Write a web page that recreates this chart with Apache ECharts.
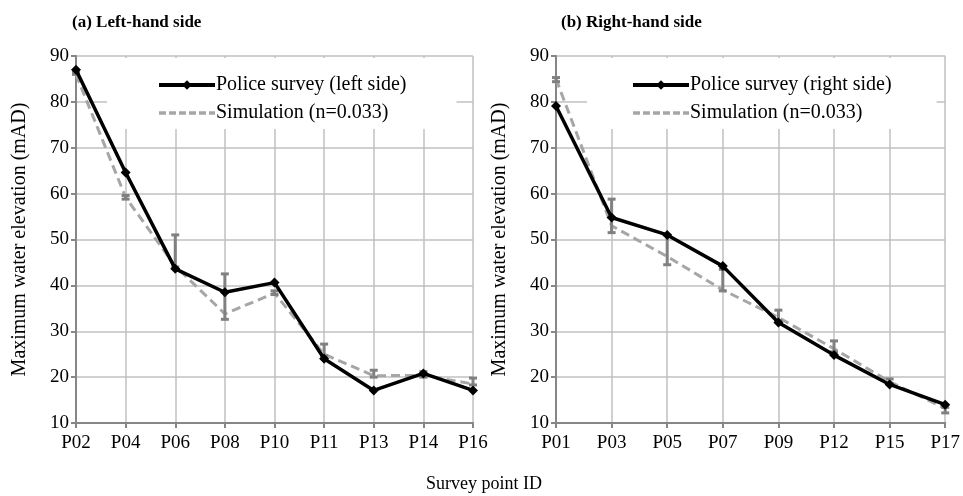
<!DOCTYPE html>
<html>
<head>
<meta charset="utf-8">
<script src="https://cdn.jsdelivr.net/npm/echarts@6/dist/echarts.min.js"></script>
<style>
  html, body { margin: 0; padding: 0; background: #fff; }
  #chart { width: 963px; height: 496px; }
</style>
</head>
<body>
<div id="chart"></div>
<script>
// left-hand side
const leftCats = ["P02", "P04", "P06", "P08", "P10", "P11", "P13", "P14", "P16"];
const leftPolice = [87, 64.6, 43.6, 38.5, 40.6, 24, 17.1, 20.8, 17.1];
const leftSim = [86, 59.2, 44.2, 33.8, 38.3, 25, 20.3, 20.4, 18.5];
const leftErrLow = [86, 58.8, 44, 32.6, 38, 24.6, 20, 20, 18.3];
const leftErrHigh = [86.4, 59.6, 51, 42.5, 38.8, 27.2, 21.5, 21.2, 19.8];

// right-hand side
const rightCats = ["P01", "P03", "P05", "P07", "P09", "P12", "P15", "P17"];
const rightPolice = [79.1, 54.8, 51, 44.2, 31.9, 24.8, 18.4, 14];
const rightSim = [85, 53, 46.3, 39, 33, 26.2, 19, 13.2];
const rightErrLow = [84.4, 51.5, 44.5, 38.8, 32.3, 25.5, 18.5, 12.2];
const rightErrHigh = [85.3, 58.8, 51, 43.5, 34.6, 27.9, 19.6, 13.4];

const font = "Liberation Serif";
const axisGray = "#868686";
const gridGray = "#c0c0c0";

function errData(lo, hi) {
  return lo.map((v, i) => [i, v, hi[i]]);
}

function renderErr(params, api) {
  const i = api.value(0);
  const a = api.coord([i, api.value(1)]);
  const b = api.coord([i, api.value(2)]);
  const style = { stroke: "#808080", lineWidth: 3 };
  const w = 4;
  return {
    type: "group",
    children: [
      { type: "line", shape: { x1: a[0], y1: a[1], x2: b[0], y2: b[1] }, style },
      { type: "line", shape: { x1: a[0] - w, y1: a[1], x2: a[0] + w, y2: a[1] }, style },
      { type: "line", shape: { x1: b[0] - w, y1: b[1], x2: b[0] + w, y2: b[1] }, style },
    ],
  };
}

function xAxis(idx, cats) {
  return {
    gridIndex: idx,
    type: "category",
    data: cats,
    boundaryGap: false,
    axisLine: { lineStyle: { color: axisGray, width: 2 } },
    axisTick: { show: true, length: 5, lineStyle: { color: axisGray, width: 2 } },
    axisLabel: { color: "#000", fontFamily: font, fontSize: 19, margin: 11 },
    splitLine: { show: true, lineStyle: { color: gridGray, width: 1.5 } },
  };
}

function yAxis(idx) {
  return {
    gridIndex: idx,
    type: "value",
    min: 10,
    max: 90,
    interval: 10,
    name: "Maximum water elevation (mAD)",
    nameLocation: "middle",
    nameGap: 46,
    nameTextStyle: { color: "#000", fontFamily: font, fontSize: 20 },
    axisLine: { show: true, lineStyle: { color: axisGray, width: 2 } },
    axisTick: { show: true, length: 5, lineStyle: { color: axisGray, width: 2 } },
    axisLabel: { color: "#000", fontFamily: font, fontSize: 19, margin: 7 },
    splitLine: { show: true, lineStyle: { color: gridGray, width: 1.5 } },
  };
}

function police(name, idx, data) {
  return {
    name: name,
    type: "line",
    xAxisIndex: idx,
    yAxisIndex: idx,
    data: data,
    symbol: "diamond",
    symbolSize: 10,
    z: 5,
    itemStyle: { color: "#000" },
    lineStyle: { color: "#000", width: 3.5 },
  };
}

function sim(idx, data) {
  return {
    name: "Simulation (n=0.033)",
    type: "line",
    xAxisIndex: idx,
    yAxisIndex: idx,
    data: data,
    symbol: "none",
    z: 3,
    itemStyle: { color: "#a6a6a6" },
    lineStyle: { color: "#a6a6a6", width: 3, type: [9, 5] },
  };
}

function errs(idx, lo, hi) {
  return {
    type: "custom",
    xAxisIndex: idx,
    yAxisIndex: idx,
    data: errData(lo, hi),
    renderItem: renderErr,
    z: 4,
    silent: true,
  };
}

function legend(left, policeName, pad) {
  return {
    orient: "vertical",
    left: left,
    top: 58,
    padding: pad,
    itemGap: 8,
    itemWidth: 56,
    itemHeight: 12,
    backgroundColor: "#fff",
    data: [
      { name: policeName, lineStyle: { width: 4 } },
      { name: "Simulation (n=0.033)", itemStyle: { opacity: 0 }, lineStyle: { width: 3.5, type: [7, 3] } },
    ],
    textStyle: { color: "#000", fontFamily: font, fontSize: 20, padding: [0, 0, 0, -4] },
  };
}

const chart = echarts.init(document.getElementById("chart"));
chart.setOption({
  animation: false,
  textStyle: { fontFamily: font },
  title: [
    { text: "(a) Left-hand side", left: 67, top: 9, textStyle: { fontFamily: font, fontSize: 17, fontWeight: "bold", color: "#000" } },
    { text: "(b) Right-hand side", left: 556, top: 9, textStyle: { fontFamily: font, fontSize: 17, fontWeight: "bold", color: "#000" } },
    { text: "Survey point ID", left: 421, top: 470, textStyle: { fontFamily: font, fontSize: 18, fontWeight: "normal", color: "#000" } },
  ],
  grid: [
    { left: 76, right: 490, top: 56, bottom: 73 },
    { left: 556, right: 17, top: 56, bottom: 73 },
  ],
  legend: [
    legend(107, "Police survey (left side)", [17, 50, 6, 50]),
    legend(587, "Police survey (right side)", [17, 45, 6, 44]),
  ],
  xAxis: [xAxis(0, leftCats), xAxis(1, rightCats)],
  yAxis: [yAxis(0), yAxis(1)],
  series: [
    sim(0, leftSim),
    errs(0, leftErrLow, leftErrHigh),
    police("Police survey (left side)", 0, leftPolice),
    sim(1, rightSim),
    errs(1, rightErrLow, rightErrHigh),
    police("Police survey (right side)", 1, rightPolice),
  ],
});
</script>
</body>
</html>
